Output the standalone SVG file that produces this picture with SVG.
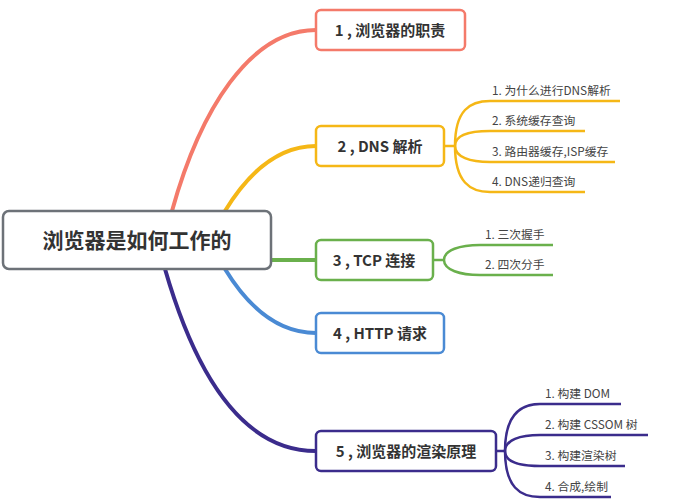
<svg xmlns="http://www.w3.org/2000/svg" width="678" height="500" viewBox="0 0 678 500">
<style>
text{font-family:"Noto Sans CJK SC","Noto Sans",sans-serif;fill:#333}
.m{font-size:15px;font-weight:bold}
.s{font-size:11.8px;fill:#444}
.n{fill:#fff;stroke-width:2.5}
.c{fill:none;stroke-width:4;stroke-linecap:round}
.t{fill:none;stroke-width:2.5}
</style>
<rect width="678" height="500" fill="#fff"/>
<g id="connectors">
<path class="c" stroke="#f47a6a" d="M172,211 C200,110 250,30 316,30"/>
<path class="c" stroke="#f5b716" d="M225,211 C250,170 280,146 316,146"/>
<path class="c" stroke="#6ab04c" d="M271,260 L316,260"/>
<path class="c" stroke="#4a8ad4" d="M225,269 C250,310 280,333 316,333"/>
<path class="c" stroke="#3b2c8c" d="M165,269 C200,390 250,451 316,451"/>
<g class="t" stroke="#f5b716"><path d="M444,146 H455"/><path d="M455,146 C455,110 470,101 490,101 H620"/><path d="M455,146 C455,135 470,131 490,131 H585"/><path d="M455,146 C455,157 470,162 490,162 H615"/><path d="M455,146 C455,182 470,192 490,192 H585"/></g>
<g class="t" stroke="#6ab04c"><path d="M433,260 H444"/><path d="M444,260 C444,250 460,245 480,245 H553"/><path d="M444,260 C444,270 460,275 480,275 H553"/></g>
<g class="t" stroke="#3b2c8c"><path d="M496,451 H505"/><path d="M505,451 C505,415 520,404 540,404 H621"/><path d="M505,451 C505,440 520,435 540,435 H648"/><path d="M505,451 C505,462 520,466 540,466 H625"/><path d="M505,451 C505,487 520,497 540,497 H611"/></g>
</g>
<g id="root"><rect x="3" y="211" width="268" height="58" rx="6" fill="#fff" stroke="#6d7278" stroke-width="2.5"/><text x="137" y="248" text-anchor="middle" style="font-size:21px;font-weight:bold">浏览器是如何工作的</text></g>
<g id="n1"><rect class="n" x="316" y="10" width="149" height="40" rx="5" stroke="#f47a6a"/><text class="m" x="390" y="36" text-anchor="middle">1 , 浏览器的职责</text></g>
<g id="n2"><rect class="n" x="316" y="126" width="128" height="40" rx="5" stroke="#f5b716"/><text class="m" x="380" y="152" text-anchor="middle">2 , DNS 解析</text></g>
<g id="n3"><rect class="n" x="316" y="240" width="117" height="40" rx="5" stroke="#6ab04c"/><text class="m" x="374" y="266" text-anchor="middle">3 , TCP 连接</text></g>
<g id="n4"><rect class="n" x="316" y="313" width="128" height="40" rx="5" stroke="#4a8ad4"/><text class="m" x="380" y="339" text-anchor="middle">4 , HTTP 请求</text></g>
<g id="n5"><rect class="n" x="316" y="431" width="180" height="40" rx="5" stroke="#3b2c8c"/><text class="m" x="406" y="457" text-anchor="middle">5 , 浏览器的渲染原理</text></g>
<g id="dns-subs"><text class="s" x="492" y="95">1. 为什么进行DNS解析</text><text class="s" x="492" y="125">2. 系统缓存查询</text><text class="s" x="492" y="156">3. 路由器缓存,ISP缓存</text><text class="s" x="492" y="186">4. DNS递归查询</text></g>
<g id="tcp-subs"><text class="s" x="485" y="239">1. 三次握手</text><text class="s" x="485" y="269">2. 四次分手</text></g>
<g id="render-subs"><text class="s" x="545" y="398">1. 构建 DOM</text><text class="s" x="545" y="429">2. 构建 CSSOM 树</text><text class="s" x="545" y="460">3. 构建渲染树</text><text class="s" x="545" y="491">4. 合成,绘制</text></g>
</svg>
